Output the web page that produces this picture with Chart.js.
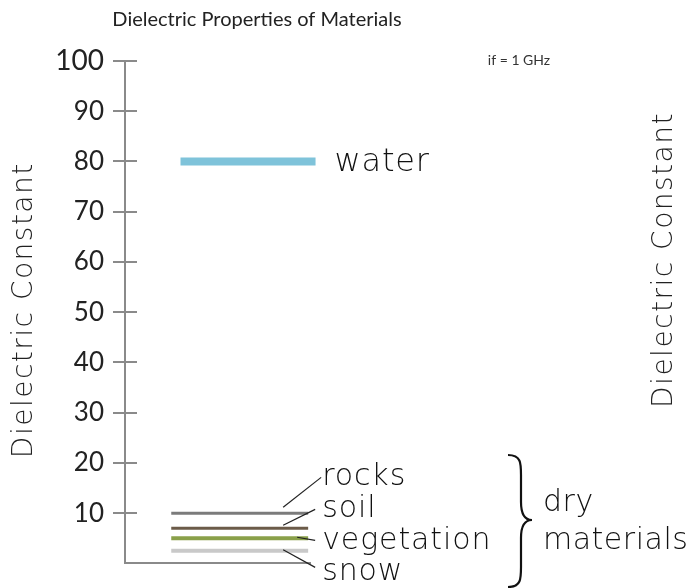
<!DOCTYPE html>
<html>
<head>
<meta charset="utf-8">
<title>Dielectric Properties of Materials</title>
<script src="https://cdn.jsdelivr.net/npm/chart.js@4.4.0/dist/chart.umd.min.js"></script>
<style>
    html, body { margin: 0; padding: 0; background: #fff; }
    #wrap { position: relative; width: 690px; height: 588px; }
</style>
</head>
<body>
<div id="wrap"><canvas id="chart"></canvas></div>
<script>
// Данные
const materials = ['water', 'rocks', 'soil', 'vegetation', 'snow'];
const dielectric = [80, 10, 7, 5, 2.5];
const yTicks = [10, 20, 30, 40, 50, 60, 70, 80, 90, 100];
const groupLabels = ['dry', 'materials'];
const chartTitle = 'Dielectric Properties of Materials';
const axisTitle = 'Dielectric Constant';
const freqNote = 'if = 1 GHz';

// Стили
const lineColors = ['#7fc3da', '#7b7b7b', '#6b5b49', '#8aa04a', '#c9c9c9'];
const lineWidths = [8, 3, 3, 4, 4];
const AXIS_COLOR = '#8a8a8a';
const TEXT_FONT = 'Lato, "Open Sans", sans-serif';
const THIN_FONT = '"DejaVu Sans", sans-serif';

// горизонтальный отрезок для каждого материала (в единицах оси X 0..100)
const spanFor = (i) => (i === 0 ? [30, 103] : [25, 99]);

const datasets = materials.map((name, i) => ({
    label: name,
    data: spanFor(i).map(x => ({ x, y: dielectric[i] })),
    borderColor: lineColors[i],
    backgroundColor: lineColors[i],
    borderWidth: lineWidths[i],
    borderCapStyle: 'butt',
    pointRadius: 0,
    fill: false,
    clip: false,
}));

/**
 * Текст с разрядкой (ширина шрифта ближе к оригиналу)
 */
function spacedText(ctx, text, x, y, font, spacing) {
    ctx.font = font;
    ctx.letterSpacing = spacing + 'px';
    ctx.fillText(text, x, y);
    ctx.letterSpacing = '0px';
}

const annotations = {
    id: 'annotations',
    afterDraw(chart) {
        const { ctx, chartArea, scales: { x, y } } = chart;
        ctx.save();

        // внутренняя половина засечек оси Y
        ctx.strokeStyle = AXIS_COLOR;
        ctx.lineWidth = 2;
        yTicks.forEach(v => {
            const py = Math.round(y.getPixelForValue(v));
            ctx.beginPath();
            ctx.moveTo(chartArea.left, py);
            ctx.lineTo(chartArea.left + 12, py);
            ctx.stroke();
        });

        // заголовок
        ctx.fillStyle = '#222';
        ctx.textBaseline = 'middle';
        ctx.textAlign = 'center';
        ctx.font = `20px ${TEXT_FONT}`;
        ctx.fillText(chartTitle, 257, 20);

        ctx.font = `14px ${TEXT_FONT}`;
        ctx.fillStyle = '#333';
        ctx.fillText(freqNote, 519, 60);

        // подписи оси слева и справа
        ctx.fillStyle = '#222';
        [[25, (chartArea.top + chartArea.bottom) / 2 - 2], [665, 260]].forEach(([tx, ty]) => {
            ctx.save();
            ctx.translate(tx, ty);
            ctx.rotate(-Math.PI / 2);
            spacedText(ctx, axisTitle, 0, 0, `200 28px ${THIN_FONT}`, 1.5);
            ctx.restore();
        });

        // подписи линий
        ctx.textAlign = 'left';
        ctx.fillStyle = '#111';
        const waterEnd = x.getPixelForValue(spanFor(0)[1]);
        spacedText(ctx, materials[0], waterEnd + 19, y.getPixelForValue(dielectric[0]) + 1,
            `200 32px ${THIN_FONT}`, 0.8);

        const dryEnd = x.getPixelForValue(spanFor(1)[1]);
        const base = y.getPixelForValue(0);
        const labelOffsets = [-86, -54, -22, 9];
        const leaderStart = [[-25, -6], [-25, -3], [-11, -1], [-25, -1]];
        const leaderEnd = [[5, -86], [-1, -54], [-1, -23], [-1, 4]];
        ctx.strokeStyle = '#222';
        ctx.lineWidth = 1.2;
        for (let i = 1; i < materials.length; i++) {
            const ly = y.getPixelForValue(dielectric[i]);
            const [sx, sy] = leaderStart[i - 1];
            const [ex, ey] = leaderEnd[i - 1];
            ctx.beginPath();
            ctx.moveTo(dryEnd + sx, ly + sy);
            ctx.lineTo(dryEnd + ex + 8, base + ey);
            ctx.stroke();
            spacedText(ctx, materials[i], dryEnd + 14, base + labelOffsets[i - 1],
                `200 30px ${THIN_FONT}`, 0.9);
        }

        // фигурная скобка
        const bx = 508, top = 455, bot = 587, mid = 520;
        ctx.strokeStyle = '#111';
        ctx.lineWidth = 2.2;
        ctx.beginPath();
        ctx.moveTo(bx, top);
        ctx.bezierCurveTo(bx + 13, top, bx + 13, top + 8, bx + 13, top + 20);
        ctx.lineTo(bx + 13, mid - 18);
        ctx.bezierCurveTo(bx + 13, mid - 6, bx + 17, mid, bx + 24, mid);
        ctx.bezierCurveTo(bx + 17, mid, bx + 13, mid + 6, bx + 13, mid + 18);
        ctx.lineTo(bx + 13, bot - 20);
        ctx.bezierCurveTo(bx + 13, bot - 8, bx + 13, bot, bx, bot);
        ctx.stroke();

        spacedText(ctx, groupLabels[0], 543, 503, `200 30px ${THIN_FONT}`, 0.5);
        spacedText(ctx, groupLabels[1], 543, 541, `200 30px ${THIN_FONT}`, 0.5);

        ctx.restore();
    }
};

new Chart(document.getElementById('chart'), {
    type: 'line',
    data: { datasets },
    plugins: [annotations],
    options: {
        responsive: true,
        maintainAspectRatio: false,
        animation: false,
        layout: {
            padding: { top: 61, right: 380, bottom: 24, left: 0 },
        },
        plugins: {
            legend: { display: false },
            tooltip: { enabled: false },
        },
        scales: {
            x: {
                type: 'linear',
                min: 0,
                max: 100,
                grid: { display: false },
                ticks: { display: false },
                border: { display: true, color: AXIS_COLOR, width: 2 },
                afterFit: (scale) => { scale.height = 0; },
            },
            y: {
                type: 'linear',
                min: 0,
                max: 100,
                afterBuildTicks: (scale) => {
                    scale.ticks = yTicks.map(value => ({ value }));
                },
                grid: {
                    drawOnChartArea: false,
                    drawTicks: true,
                    tickLength: 12,
                    color: AXIS_COLOR,
                    lineWidth: 2,
                },
                border: { display: true, color: AXIS_COLOR, width: 2 },
                ticks: {
                    color: '#222',
                    padding: 9,
                    font: (c) => ({
                        family: TEXT_FONT,
                        size: c.tick && c.tick.value === 100 ? 28 : 26,
                    }),
                },
                // подпись оси рисуется в плагине (с разрядкой)
                title: { display: false, text: axisTitle },
                afterFit: (scale) => { scale.width = 125; },
            },
        },
    },
});
</script>
</body>
</html>
